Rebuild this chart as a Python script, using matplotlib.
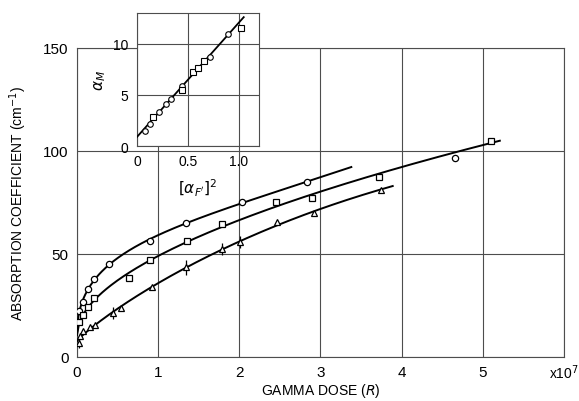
import numpy as np
import matplotlib.pyplot as plt

plt.rcParams['font.family'] = ['Liberation Sans', 'DejaVu Sans']

# main plot data (dose in units of 1e7 R, absorption in cm^-1)
circ_x = [0.03, 0.07, 0.14, 0.21, 0.40, 0.90, 1.34, 2.03, 2.84, 4.66]
circ_y = [22.5, 26.8, 33.0, 38.0, 45.0, 56.5, 65.0, 75.0, 85.0, 96.4]
sq_x = [0.03, 0.08, 0.14, 0.21, 0.64, 0.90, 1.36, 1.79, 2.45, 2.90, 3.72, 5.10]
sq_y = [17.0, 20.4, 24.4, 28.6, 38.2, 47.2, 56.3, 64.6, 75.4, 77.0, 87.2, 104.7]
tri_x = [0.03, 0.04, 0.08, 0.16, 0.22, 0.44, 0.54, 0.92, 1.34, 1.79, 2.01, 2.47, 2.92, 3.74]
tri_y = [7.0, 10.0, 12.8, 14.4, 15.5, 21.2, 23.6, 33.8, 43.5, 52.4, 55.7, 65.4, 69.9, 81.2]
tri_err = [2.5, 0, 0, 0, 0, 3.0, 0, 0, 3.5, 3.0, 3.0, 0, 0, 0]

# fitted curve extents (x end of each drawn line)
circ_end = 3.38
sq_end = 5.21
tri_end = 3.89

# inset data
ins_circ_x = [0.08, 0.13, 0.22, 0.29, 0.33, 0.44, 0.72, 0.90]
ins_circ_y = [1.5, 2.2, 3.3, 4.1, 4.6, 5.9, 8.7, 11.0]
ins_sq_x = [0.16, 0.44, 0.55, 0.60, 0.66, 1.02]
ins_sq_y = [2.8, 5.5, 7.2, 7.6, 8.3, 11.5]
ins_line_x = [0.0, 1.05]
ins_line_y = [0.9, 12.6]


def fit_curve(x, y, xend):
    p = np.polyfit(np.sqrt(x), y, 3)
    xs = np.linspace(0, xend, 200)
    return xs, np.polyval(p, np.sqrt(xs))


fig = plt.figure(figsize=(5.79, 4.02), dpi=100)
ax = fig.add_axes([0.133, 0.1095, 0.841, 0.769])

for x, y, xend in [(circ_x, circ_y, circ_end), (sq_x, sq_y, sq_end), (tri_x, tri_y, tri_end)]:
    # the last circle sits on the square curve, so leave it out of the fit
    n = len(x) - 1 if xend < x[-1] else len(x)
    xs, ys = fit_curve(x[:n], y[:n], xend)
    ax.plot(xs, ys, color='black', lw=1.4, zorder=3)

mk = dict(linestyle='none', mfc='white', mec='black', mew=0.9, ms=4.5, zorder=4)
ax.plot(circ_x, circ_y, marker='o', **mk)
ax.plot(sq_x, sq_y, marker='s', **mk)
ax.errorbar(tri_x, tri_y, yerr=tri_err, fmt='^', color='black', mfc='white',
            mec='black', mew=0.9, ms=4.5, elinewidth=0.9, capsize=0, zorder=4)

ax.set_xlim(0, 6)
ax.set_ylim(0, 150)
ax.set_xticks([0, 1, 2, 3, 4, 5, 6])
ax.set_xticklabels(['0', '1', '2', '3', '4', '5', ''])
ax.set_yticks([0, 50, 100, 150])
ax.grid(True, color='0.3', lw=0.8)
ax.tick_params(length=0, labelsize=11, pad=6)
for s in ax.spines.values():
    s.set_linewidth(0.8)
    s.set_color('0.3')
ax.set_xlabel('GAMMA DOSE ($\\it{R}$)', fontsize=10, labelpad=1)
ax.set_ylabel('ABSORPTION COEFFICIENT (cm$^{-1}$)', fontsize=10, labelpad=10)
ax.text(6.0, -7, 'x10$^7$', fontsize=10, ha='center', va='center')

# inset
ins = fig.add_axes([0.2366, 0.634, 0.2107, 0.331])
ins.plot(ins_line_x, ins_line_y, color='black', lw=1.3, zorder=3)
ins.plot(ins_circ_x, ins_circ_y, marker='o', linestyle='none', mfc='white',
         mec='black', mew=0.8, ms=4, zorder=4)
ins.plot(ins_sq_x, ins_sq_y, marker='s', linestyle='none', mfc='white',
         mec='black', mew=0.8, ms=4, zorder=4)
ins.set_xlim(0, 1.2)
ins.set_ylim(0, 13)
ins.set_xticks([0, 0.5, 1.0])
ins.set_xticklabels(['0', '0.5', '1.0'])
ins.set_yticks([0, 5, 10])
ins.grid(True, color='0.3', lw=0.8)
ins.tick_params(length=0, labelsize=10, pad=6)
for s in ins.spines.values():
    s.set_linewidth(0.8)
    s.set_color('0.3')
ins.set_xlabel("$[\\alpha_{F'}]^2$", fontsize=11, labelpad=6)
ins.set_ylabel('$\\alpha_M$', fontsize=11, labelpad=4)

fig.savefig('out.png', dpi=100)
